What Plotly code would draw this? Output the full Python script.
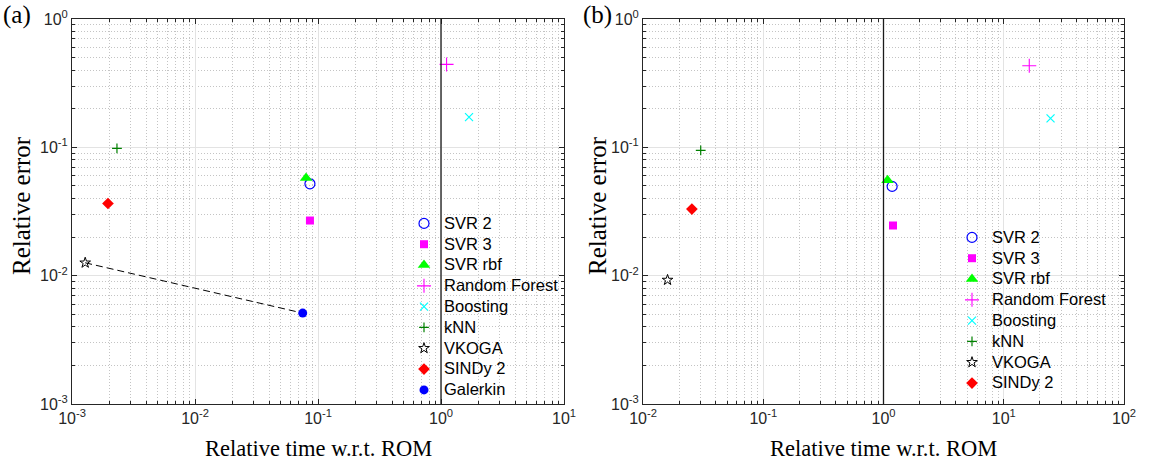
import plotly.graph_objects as go

# ---------------- data ----------------
methods_a = ["SVR 2", "SVR 3", "SVR rbf", "Random Forest", "Boosting", "kNN", "VKOGA", "SINDy 2", "Galerkin"]
time_a = [0.086, 0.086, 0.080, 1.11, 1.69, 0.00232, 0.00128, 0.00196, 0.0751]
err_a = [0.052, 0.0269, 0.0576, 0.443, 0.172, 0.098, 0.0126, 0.0365, 0.00511]

methods_b = ["SVR 2", "SVR 3", "SVR rbf", "Random Forest", "Boosting", "kNN", "VKOGA", "SINDy 2"]
time_b = [1.18, 1.20, 1.08, 16.3, 24.5, 0.0302, 0.0160, 0.0255]
err_b = [0.0496, 0.0246, 0.0553, 0.432, 0.168, 0.0948, 0.00925, 0.033]

xticks_a = [1e-3, 1e-2, 1e-1, 1e0, 1e1]
xticklabels_a = ["10<sup>-3</sup>", "10<sup>-2</sup>", "10<sup>-1</sup>", "10<sup>0</sup>", "10<sup>1</sup>"]
xticks_b = [1e-2, 1e-1, 1e0, 1e1, 1e2]
xticklabels_b = ["10<sup>-2</sup>", "10<sup>-1</sup>", "10<sup>0</sup>", "10<sup>1</sup>", "10<sup>2</sup>"]
yticks = [1e-3, 1e-2, 1e-1, 1e0]
yticklabels = ["10<sup>-3</sup>", "10<sup>-2</sup>", "10<sup>-1</sup>", "10<sup>0</sup>"]

# ---------------- styles ----------------
styles = {
    "SVR 2": dict(symbol="circle-open", color="#0000ff", size=10, line=dict(width=1.2, color="#0000ff")),
    "SVR 3": dict(symbol="square", color="#ff00ff", size=8, line=dict(width=0)),
    "SVR rbf": dict(symbol="triangle-up", color="#00ff00", size=11, line=dict(width=0)),
    "Random Forest": dict(symbol="cross-thin-open", color="#ff00ff", size=10, line=dict(width=1.1, color="#ff00ff")),
    "Boosting": dict(symbol="x-thin-open", color="#00ffff", size=8, line=dict(width=1.2, color="#00ffff")),
    "kNN": dict(symbol="cross-thin-open", color="#008000", size=7, line=dict(width=1.2, color="#008000")),
    "VKOGA": dict(symbol="star-open", color="#000000", size=8, line=dict(width=1, color="#000000")),
    "SINDy 2": dict(symbol="diamond", color="#ff0000", size=9, line=dict(width=0)),
    "Galerkin": dict(symbol="circle", color="#0000ff", size=9, line=dict(width=0)),
}

W, H = 1149, 465
fig = go.Figure()

dom_xa = [72 / W, 564 / W]
dom_xb = [643 / W, 1124 / W]
dom_y = [1 - 404 / H, 1 - 19 / H]

def lg(name):
    return '<span style="font-size:16.5px">' + name + '</span>'

# dashed line VKOGA -> Galerkin in panel (a)
iv, ig = methods_a.index("VKOGA"), methods_a.index("Galerkin")
fig.add_trace(go.Scatter(x=[time_a[iv], time_a[ig]], y=[err_a[iv], err_a[ig]], mode="lines",
                         line=dict(color="black", width=1, dash="7px,4px"), showlegend=False,
                         xaxis="x", yaxis="y", hoverinfo="skip"))

for m, t, e in zip(methods_a, time_a, err_a):
    fig.add_trace(go.Scatter(x=[t], y=[e], mode="markers", name=lg(m), marker=styles[m],
                             xaxis="x", yaxis="y", legend="legend"))
for m, t, e in zip(methods_b, time_b, err_b):
    fig.add_trace(go.Scatter(x=[t], y=[e], mode="markers", name=lg(m), marker=styles[m],
                             xaxis="x2", yaxis="y2", legend="legend2"))

# vertical reference line at x=1
for xr, yr in (("x", "y"), ("x2", "y2")):
    fig.add_shape(type="line", xref=xr, yref=yr, x0=1, x1=1, y0=1e-3, y1=1,
                  line=dict(color="#1a1a1a", width=1.3))

axcol = "#262626"
def minor_vals(lo, hi):
    return [k * 10.0 ** d for d in range(lo, hi) for k in range(2, 10)]

def axis(dom, rng, tv, tt):
    return dict(type="log", domain=dom, range=rng, tickmode="array", tickvals=tv, ticktext=tt,
                automargin=False,
                showline=True, linecolor=axcol, linewidth=1, mirror="allticks",
                ticks="inside", ticklen=5, tickcolor=axcol,
                showgrid=True, gridcolor="#e3e3e3", gridwidth=1.2, zeroline=False,
                tickfont=dict(family="Liberation Sans, Arial", size=16, color="#262626"),
                minor=dict(tickmode="array", tickvals=minor_vals(int(rng[0]), int(rng[1])),
                           ticks="inside", ticklen=3, tickcolor=axcol,
                           showgrid=True, gridcolor="#c4c4c4", griddash="1px,2px", gridwidth=1))

legfont = dict(family="Liberation Sans, Arial", size=13.7, color="black")
fig.update_layout(
    width=W, height=H, margin=dict(l=0, r=0, t=0, b=0, autoexpand=False),
    plot_bgcolor="white", paper_bgcolor="white",
    xaxis=axis(dom_xa, [-3, 1], xticks_a, xticklabels_a),
    yaxis=dict(axis(dom_y, [-3, 0], yticks, yticklabels), anchor="x"),
    xaxis2=dict(axis(dom_xb, [-2, 2], xticks_b, xticklabels_b), anchor="y2"),
    yaxis2=dict(axis(dom_y, [-3, 0], yticks, yticklabels), anchor="x2"),
    legend=dict(x=404 / W, y=1 - 208 / H, xanchor="left", yanchor="top", bgcolor="rgba(0,0,0,0)",
                font=legfont, itemwidth=30, tracegroupgap=0),
    legend2=dict(x=952 / W, y=1 - 222 / H, xanchor="left", yanchor="top", bgcolor="rgba(0,0,0,0)",
                 font=legfont, itemwidth=30, tracegroupgap=0),
    showlegend=True,
)

ann = [
    dict(text="Relative error", x=21 / W, y=1 - 206 / H, textangle=-90, size=25),
    dict(text="Relative error", x=597 / W, y=1 - 206 / H, textangle=-90, size=25),
    dict(text="Relative time w.r.t. ROM", x=318 / W, y=1 - 448 / H, size=22.5),
    dict(text="Relative time w.r.t. ROM", x=883 / W, y=1 - 448 / H, size=22.5),
    dict(text="(a)", x=17 / W, y=1 - 15 / H, size=25),
    dict(text="(b)", x=597 / W, y=1 - 15 / H, size=25),
]
for a in ann:
    sz = a.pop("size")
    fig.add_annotation(xref="paper", yref="paper", xanchor="center", yanchor="middle",
                       showarrow=False,
                       font=dict(family="Liberation Serif, Times New Roman", size=sz, color="black"), **a)

fig.write_html("out.html", config={"displayModeBar": False},
               post_script="document.body.style.margin='0';document.body.style.overflow='hidden';")
